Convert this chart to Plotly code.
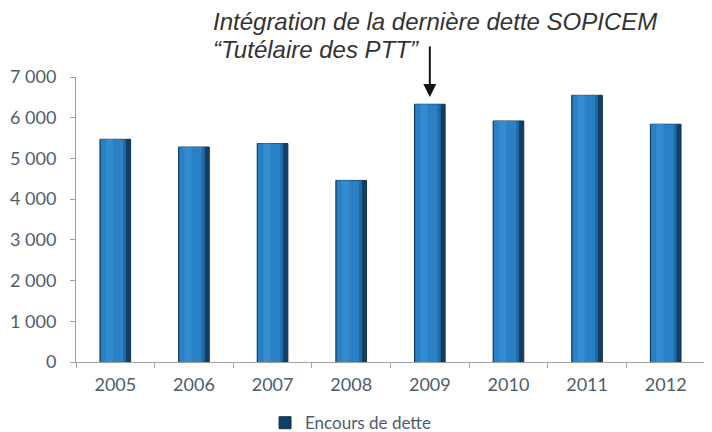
import plotly.graph_objects as go

years = ["2005", "2006", "2007", "2008", "2009", "2010", "2011", "2012"]
encours = [5470, 5280, 5365, 4460, 6330, 5920, 6550, 5840]
y_ticks = [0, 1000, 2000, 3000, 4000, 5000, 6000, 7000]

fig = go.Figure()
# dark base (gives the shaded edges)
fig.add_trace(go.Bar(
    x=years, y=encours, name="Encours de dette", width=0.39,
    marker=dict(color="#123f63", line=dict(color="#0e3553", width=1)),
    showlegend=True,
))
# lighter main face
fig.add_trace(go.Bar(
    x=years, y=encours, width=0.32, offset=-0.186,
    marker=dict(color="#2a80c4", line=dict(width=0)),
    showlegend=False, hoverinfo="skip",
))
# shading towards the right edge
fig.add_trace(go.Bar(
    x=years, y=encours, width=0.035, offset=0.10,
    marker=dict(color="#1f69a4", line=dict(width=0)),
    showlegend=False, hoverinfo="skip",
))
# highlight strip
fig.add_trace(go.Bar(
    x=years, y=encours, width=0.09, offset=-0.12,
    marker=dict(color="#338cd0", line=dict(width=0)),
    showlegend=False, hoverinfo="skip",
))

font_axis = dict(family="Lato, 'Open Sans', sans-serif", size=18, color="#4d5d6d")
font_note = dict(family="Liberation Sans, Arial, sans-serif", size=24, color="#333333")

fig.update_layout(
    width=712, height=432,
    margin=dict(l=68, r=15, t=69, b=78, autoexpand=False),
    paper_bgcolor="white", plot_bgcolor="white",
    barmode="overlay",
    separators=", ",
    showlegend=True,
    legend=dict(orientation="h", xref="container", yref="container",
                x=0.361, xanchor="left", y=0.039, yanchor="middle",
                font=dict(family="Lato, 'Open Sans', sans-serif", size=17, color="#4d5d6d")),
    xaxis=dict(type="category", categoryorder="array", categoryarray=years,
               range=[-0.5, len(years) - 0.5], autorange=False,
               showline=True, linecolor="#a0a0a0", linewidth=1,
               ticks="outside", tickson="boundaries", ticklen=5, tickcolor="#a0a0a0",
               tickfont=font_axis, showgrid=False, tickangle=0, ticklabelstandoff=6),
    yaxis=dict(range=[0, 7000], autorange=False, tickvals=y_ticks, tickformat=",d", showline=True,
               linecolor="#a0a0a0", linewidth=1, ticks="outside", ticklen=5,
               tickcolor="#a0a0a0", tickfont=font_axis, showgrid=False, zeroline=False,
               ticklabelstandoff=10),
    annotations=[
        dict(xref="paper", yref="paper", x=0.215, y=1.193, xanchor="left", yanchor="middle",
             align="left", showarrow=False,
             text="<i>Intégration de la dernière dette SOPICEM</i>", font=font_note),
        dict(xref="paper", yref="paper", x=0.215, y=1.095, xanchor="left", yanchor="middle",
             align="left", showarrow=False,
             text="<i>“Tutélaire des PTT”</i>", font=font_note),
        dict(x=years.index("2009"), y=6510, xref="x", yref="y", showarrow=True, ax=0, ay=-52,
             axref="pixel", ayref="pixel", arrowhead=2, arrowsize=1.3, arrowwidth=2,
             arrowcolor="#111111", text=""),
    ],
)

fig.write_html("out.html")
